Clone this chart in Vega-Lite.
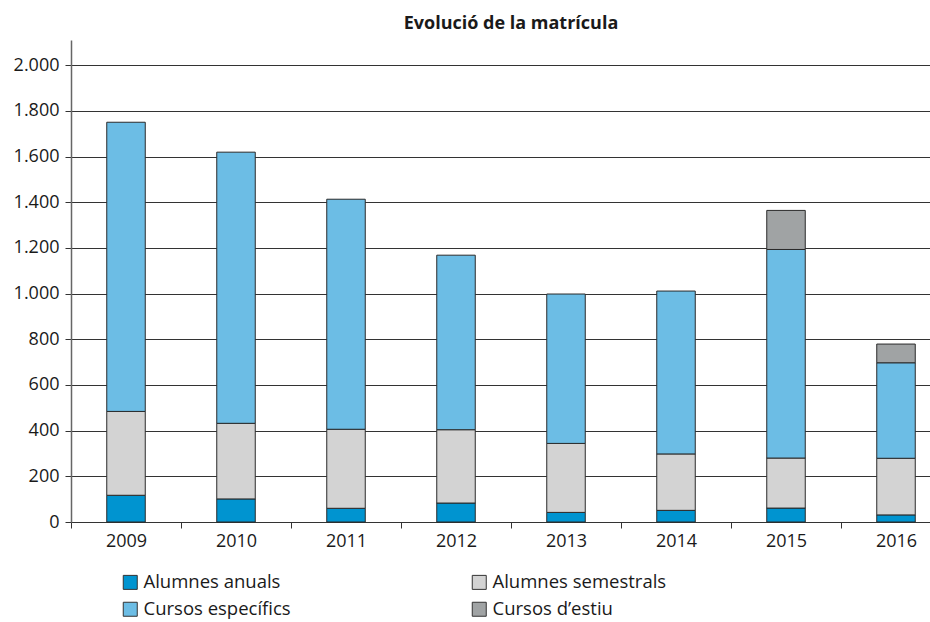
{
  "$schema": "https://vega.github.io/schema/vega-lite/v6.json",
  "autosize": "none",
  "padding": {"left": 71, "top": 40, "right": 0, "bottom": 100},
  "width": 880,
  "height": 482,
  "background": "white",
  "title": {"text": "Evolució de la matrícula", "font": "Open Sans", "fontSize": 18, "fontWeight": "bold", "color": "#1a1a1a", "anchor": "middle", "offset": 7},
  "config": {"view": {"stroke": null}, "font": "Open Sans"},
  "data": {"values": [
    {"any": "2009", "serie": "Alumnes anuals", "ord": 1, "valor": 117},
    {"any": "2009", "serie": "Alumnes semestrals", "ord": 2, "valor": 367},
    {"any": "2009", "serie": "Cursos específics", "ord": 3, "valor": 1266},
    {"any": "2010", "serie": "Alumnes anuals", "ord": 1, "valor": 101},
    {"any": "2010", "serie": "Alumnes semestrals", "ord": 2, "valor": 331},
    {"any": "2010", "serie": "Cursos específics", "ord": 3, "valor": 1187},
    {"any": "2011", "serie": "Alumnes anuals", "ord": 1, "valor": 60},
    {"any": "2011", "serie": "Alumnes semestrals", "ord": 2, "valor": 346},
    {"any": "2011", "serie": "Cursos específics", "ord": 3, "valor": 1007},
    {"any": "2012", "serie": "Alumnes anuals", "ord": 1, "valor": 83},
    {"any": "2012", "serie": "Alumnes semestrals", "ord": 2, "valor": 321},
    {"any": "2012", "serie": "Cursos específics", "ord": 3, "valor": 764},
    {"any": "2013", "serie": "Alumnes anuals", "ord": 1, "valor": 42},
    {"any": "2013", "serie": "Alumnes semestrals", "ord": 2, "valor": 302},
    {"any": "2013", "serie": "Cursos específics", "ord": 3, "valor": 654},
    {"any": "2014", "serie": "Alumnes anuals", "ord": 1, "valor": 51},
    {"any": "2014", "serie": "Alumnes semestrals", "ord": 2, "valor": 247},
    {"any": "2014", "serie": "Cursos específics", "ord": 3, "valor": 713},
    {"any": "2015", "serie": "Alumnes anuals", "ord": 1, "valor": 61},
    {"any": "2015", "serie": "Alumnes semestrals", "ord": 2, "valor": 219},
    {"any": "2015", "serie": "Cursos específics", "ord": 3, "valor": 913},
    {"any": "2015", "serie": "Cursos d’estiu", "ord": 4, "valor": 171},
    {"any": "2016", "serie": "Alumnes anuals", "ord": 1, "valor": 31},
    {"any": "2016", "serie": "Alumnes semestrals", "ord": 2, "valor": 248},
    {"any": "2016", "serie": "Cursos específics", "ord": 3, "valor": 418},
    {"any": "2016", "serie": "Cursos d’estiu", "ord": 4, "valor": 82}
  ]},
  "mark": {"type": "bar", "width": {"band": 0.35}, "stroke": "#2a2a2a", "strokeWidth": 1},
  "encoding": {
    "x": {
      "field": "any", "type": "ordinal",
      "scale": {"paddingInner": 0, "paddingOuter": 0},
      "axis": {"title": null, "labelAngle": 0, "labelFont": "Open Sans", "labelFontSize": 18, "labelColor": "#1a1a1a", "labelPadding": 4,
               "tickBand": "extent", "tickSize": 6, "tickColor": "#333", "domainColor": "#333", "domainWidth": 1.2, "grid": false}
    },
    "y": {
      "field": "valor", "type": "quantitative", "stack": "zero",
      "scale": {"domain": [0, 2110], "nice": false},
      "axis": {"title": null, "values": [0, 200, 400, 600, 800, 1000, 1200, 1400, 1600, 1800, 2000],
               "labelExpr": "replace(format(datum.value, ','), ',', '.')",
               "labelFont": "Open Sans", "labelFontSize": 18, "labelColor": "#1a1a1a", "labelPadding": 6,
               "tickSize": 6, "tickColor": "#333", "domainColor": "#666", "domainWidth": 1.5,
               "grid": true, "gridColor": "#333", "gridWidth": 1.2, "gridOpacity": 1}
    },
    "color": {
      "field": "serie", "type": "nominal",
      "scale": {"domain": ["Alumnes anuals", "Alumnes semestrals", "Cursos específics", "Cursos d’estiu"],
                "range": ["#0094d0", "#d3d3d3", "#6cbde5", "#a0a3a4"]},
      "legend": {"title": null, "orient": "none", "legendX": 50, "legendY": 533, "direction": "horizontal", "columns": 2,
                 "symbolType": "square", "symbolSize": 196, "symbolStrokeColor": "#333", "symbolStrokeWidth": 1, "symbolOpacity": 1,
                 "labelFont": "Open Sans", "labelFontSize": 18.5, "labelColor": "#1a1a1a", "labelOffset": 4, "columnPadding": 179, "rowPadding": 8, "labelLimit": 300}
    },
    "order": {"field": "ord", "type": "quantitative"}
  }
}
